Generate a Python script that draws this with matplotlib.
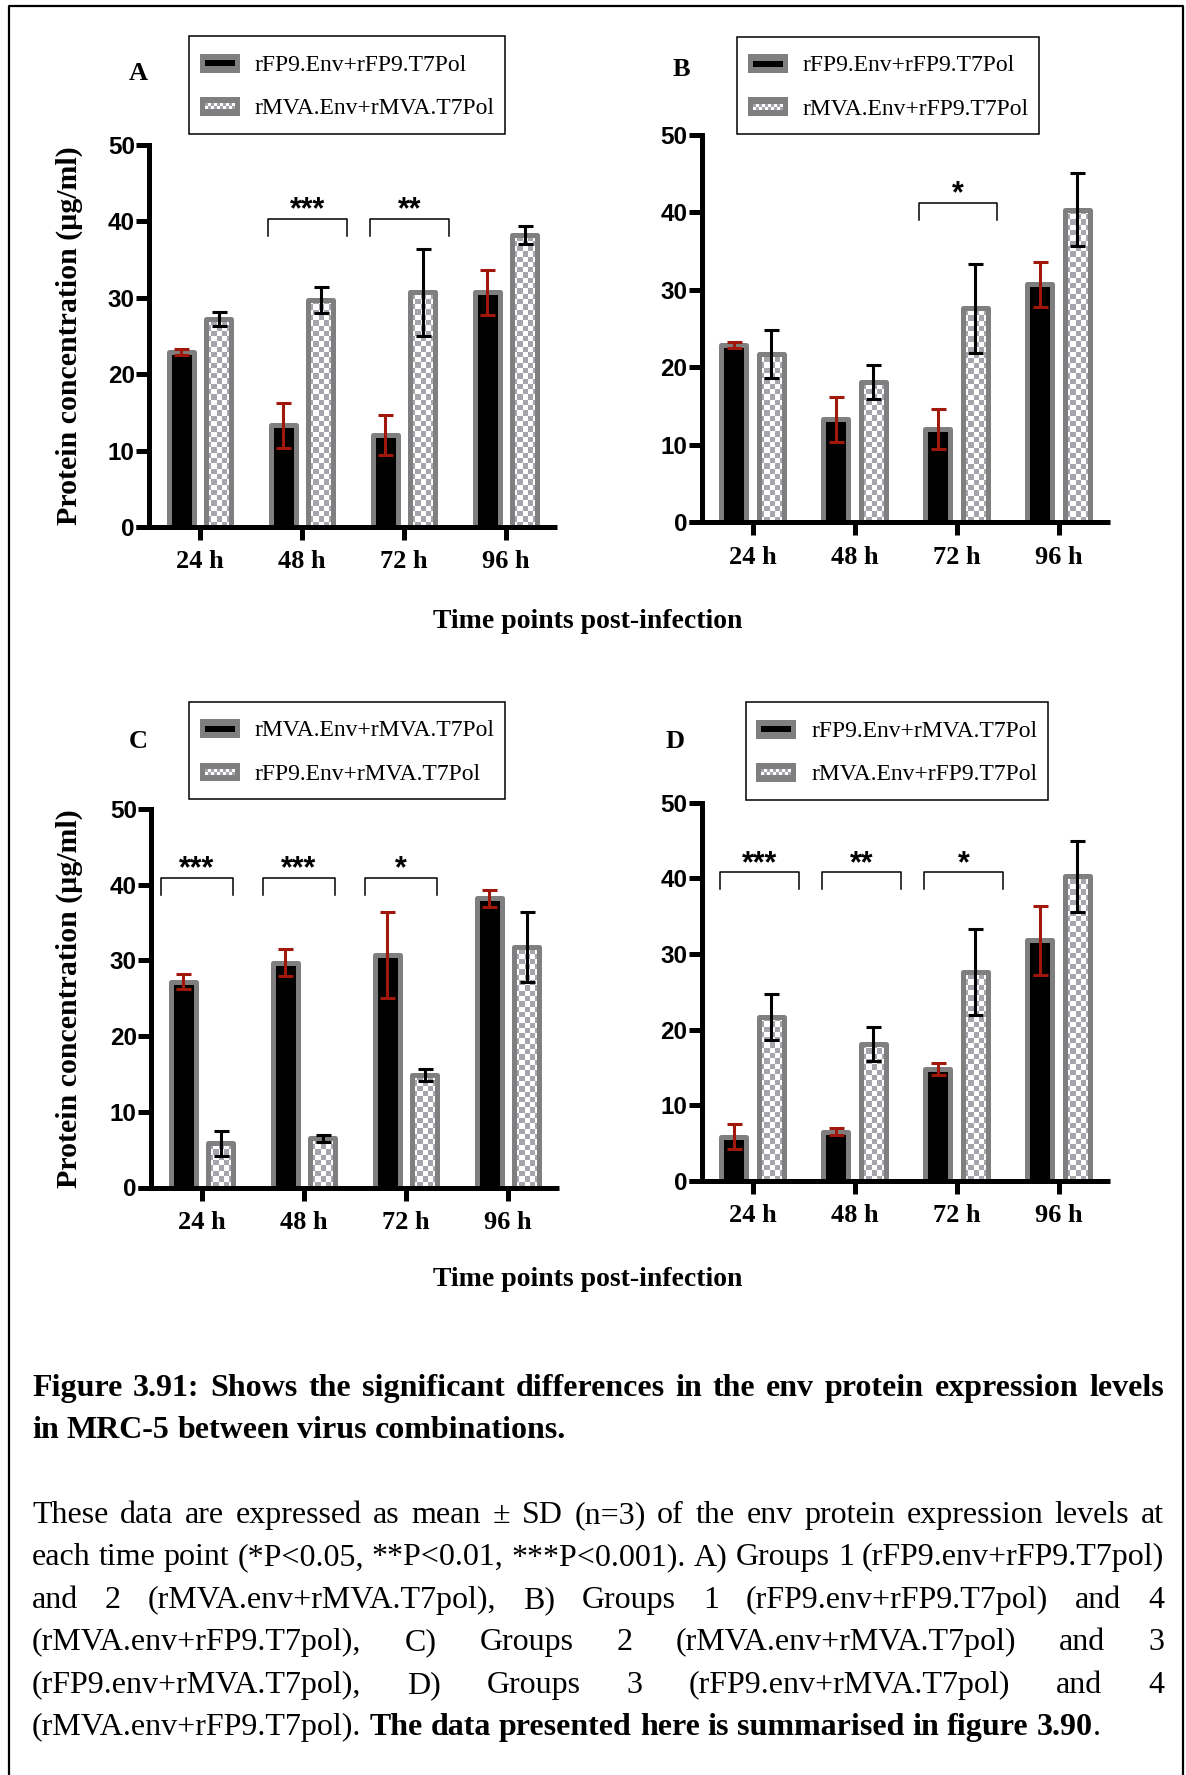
import numpy as np
import matplotlib
matplotlib.use("Agg")
import matplotlib.pyplot as plt
from matplotlib.patches import Rectangle, Patch
from matplotlib.lines import Line2D
from matplotlib.colors import ListedColormap
from matplotlib.legend_handler import HandlerBase

# ---------------- data: env protein (µg/ml), mean and SD (n=3) ----------------
time_points = ["24 h", "48 h", "72 h", "96 h"]

g1_name = "rFP9.Env+rFP9.T7Pol"
g1_mean = [22.9, 13.3, 12.0, 30.7]
g1_sd = [0.4, 2.9, 2.6, 2.9]

g2_name = "rMVA.Env+rMVA.T7Pol"
g2_mean = [27.2, 29.7, 30.7, 38.2]
g2_sd = [0.95, 1.75, 5.7, 1.15]

g3_name = "rFP9.Env+rMVA.T7Pol"
g3_mean = [5.85, 6.5, 14.85, 31.8]
g3_sd = [1.65, 0.45, 0.8, 4.6]

g4_name = "rMVA.Env+rFP9.T7Pol"
g4_mean = [21.7, 18.1, 27.6, 40.3]
g4_sd = [3.05, 2.25, 5.7, 4.7]

# significance per panel: (time point index, stars)
sig_A = [(1, "***"), (2, "**")]
sig_B = [(2, "*")]
sig_C = [(0, "***"), (1, "***"), (2, "*")]
sig_D = [(0, "***"), (1, "**"), (2, "*")]

y_ticks = [0, 10, 20, 30, 40, 50]
y_label = "Protein concentration (µg/ml)"
x_label = "Time points post-infection"

caption_title = [
    [("Figure 3.91: Shows the significant differences in the env protein expression levels", True)],
    [("in MRC-5 between virus combinations.", True)],
]
caption_body = [
    [("These data are expressed as mean ± SD (n=3) of the env protein expression levels at", False)],
    [("each time point (*P<0.05, **P<0.01, ***P<0.001). A) Groups 1 (rFP9.env+rFP9.T7pol)", False)],
    [("and 2 (rMVA.env+rMVA.T7pol), B) Groups 1 (rFP9.env+rFP9.T7pol) and 4", False)],
    [("(rMVA.env+rFP9.T7pol), C) Groups 2 (rMVA.env+rMVA.T7pol) and 3", False)],
    [("(rFP9.env+rMVA.T7pol), D) Groups 3 (rFP9.env+rMVA.T7pol) and 4", False)],
    [("(rMVA.env+rFP9.T7pol). ", False),
     ("The data presented here is summarised in figure 3.90", True),
     (".", False)],
]

# ---------------- styling ----------------
SERIF = "Liberation Serif"
SANS = "Liberation Sans"
EDGE = "#7f7f7f"
CHECK = "#a5a5ad"
RED = "#a0180c"
W, H = 1186, 1775
LW_AX = 3.6


def fx(px):
    return px / W


def fy(py):
    return 1 - py / H


class BarKey(HandlerBase):
    """Legend key: grey-framed bar, solid black or checkered."""

    def __init__(self, checkered):
        super().__init__()
        self.checkered = checkered

    def create_artists(self, legend, orig_handle, xdescent, ydescent,
                       width, height, fontsize, trans):
        x0 = -xdescent
        kh = fontsize * 0.8
        y0 = -ydescent + (height - kh) / 2
        arts = [Rectangle((x0, y0), width, kh, facecolor=EDGE,
                          edgecolor="none", transform=trans)]
        bx, by = width * 0.125, kh * 0.34
        ix, iy, iw, ih = x0 + bx, y0 + by, width - 2 * bx, kh - 2 * by
        if not self.checkered:
            arts.append(Rectangle((ix, iy), iw, ih, facecolor="black",
                                  edgecolor="none", transform=trans))
        else:
            arts.append(Rectangle((ix, iy), iw, ih, facecolor="white",
                                  edgecolor="none", transform=trans))
            cell = ih / 2.0
            ncol = int(round(iw / cell))
            cw = iw / ncol
            for r in range(2):
                for c in range(ncol):
                    if (r + c) % 2:
                        arts.append(Rectangle((ix + c * cw, iy + r * cell), cw, cell,
                                              facecolor=CHECK, edgecolor="none",
                                              transform=trans))
        return arts


fig = plt.figure(figsize=(W / 100, H / 100), dpi=100)

panels = [
    dict(letter="A", letter_xy=(138.5, 74), rect=(149, 145, 527),
         s1=(g1_name, g1_mean, g1_sd), s2=(g2_name, g2_mean, g2_sd),
         sig=sig_A, br=(-0.33, 0.445, 40.3), legend_xy=(189, 36), ylabel=True),
    dict(letter="B", letter_xy=(681.5, 69), rect=(701.5, 134.7, 522.3),
         s1=(g1_name, g1_mean, g1_sd), s2=(g4_name, g4_mean, g4_sd),
         sig=sig_B, br=(-0.37, 0.40, 41.2), legend_xy=(737, 36.5), ylabel=False),
    dict(letter="C", letter_xy=(138.5, 741.6), rect=(151, 809, 1187.5),
         s1=(g2_name, g2_mean, g2_sd), s2=(g3_name, g3_mean, g3_sd),
         sig=sig_C, br=(-0.40, 0.30, 40.9), legend_xy=(189, 701.6), ylabel=True),
    dict(letter="D", letter_xy=(674.7, 741.6), rect=(701.5, 802.8, 1181),
         s1=(g3_name, g3_mean, g3_sd), s2=(g4_name, g4_mean, g4_sd),
         sig=sig_D, br=(-0.32, 0.455, 40.8), legend_xy=(745.7, 702), ylabel=False),
]

AX_W = 408
BAR_W = 0.245
OFF = 0.185
CELL_PX = 5.3

for p in panels:
    left, top, bottom = p["rect"]
    ax = fig.add_axes([fx(left), fy(bottom), AX_W / W, (bottom - top) / H])
    ax.set_facecolor("none")
    x = np.arange(len(time_points))
    n1, m1, e1 = p["s1"]
    n2, m2, e2 = p["s2"]

    b1 = ax.bar(x - OFF, m1, BAR_W, facecolor="black", edgecolor=EDGE,
                linewidth=LW_AX, zorder=3)
    b2 = ax.bar(x + OFF, m2, BAR_W, facecolor="none", edgecolor=EDGE,
                linewidth=LW_AX, zorder=3)
    for bar in list(b1) + list(b2):
        bar.set_joinstyle("round")

    ax.set_xlim(-0.5, len(time_points) - 0.5)
    ax.set_ylim(0, 50)

    # checkered fill for the second series
    px_x = AX_W / len(time_points)
    px_y = (bottom - top) / 50.0
    cx, cy = CELL_PX / px_x, CELL_PX / px_y
    cmap = ListedColormap(["white", CHECK])
    for bar in b2:
        x0, w, h = bar.get_x(), bar.get_width(), bar.get_height()
        nx = int(np.ceil(w / cx)) + 1
        ny = int(np.ceil(h / cy)) + 1
        img = np.add.outer(np.arange(ny), np.arange(nx)) % 2
        im = ax.imshow(img, cmap=cmap, vmin=0, vmax=1, origin="lower",
                       extent=(x0, x0 + nx * cx, 0, ny * cy), aspect="auto",
                       interpolation="nearest", zorder=2.5)
        im.set_clip_path(bar)

    ax.errorbar(x - OFF, m1, yerr=e1, fmt="none", ecolor=RED, elinewidth=2.2,
                capsize=5.4, capthick=2.2, zorder=4)
    ax.errorbar(x + OFF, m2, yerr=e2, fmt="none", ecolor="black", elinewidth=2.2,
                capsize=5.4, capthick=2.2, zorder=4)

    ax.set_xlim(-0.5, len(time_points) - 0.5)
    ax.set_ylim(0, 50)

    # axes, ticks
    for s in ("top", "right", "bottom"):
        ax.spines[s].set_visible(False)
    ax.spines["left"].set_linewidth(LW_AX)
    ax.add_line(Line2D([-13 / AX_W, 1], [0, 0], transform=ax.transAxes,
                       color="black", lw=LW_AX, solid_capstyle="butt",
                       clip_on=False, zorder=5))
    ax.set_xticks(x)
    ax.set_xticklabels(time_points, fontfamily=SERIF, fontweight="bold", fontsize=19)
    ax.set_yticks(y_ticks)
    ax.set_yticklabels([str(v) for v in y_ticks], fontfamily=SANS,
                       fontweight="bold", fontsize=17.5)
    ax.tick_params(axis="x", length=9.4, width=LW_AX, pad=7.5)
    ax.tick_params(axis="y", length=9.4, width=LW_AX, pad=0.8)

    # significance brackets
    lo, hi, ytop = p["br"]
    for i, stars in p["sig"]:
        ax.plot([i + lo, i + lo, i + hi, i + hi], [ytop - 2.2, ytop, ytop, ytop - 2.2],
                color="black", lw=1.1, zorder=4, clip_on=False)
        ax.text(i + (lo + hi) / 2, ytop + 0.05, stars, ha="center", va="baseline",
                fontsize=22, fontfamily=SANS, fontweight="bold", zorder=4)

    # legend
    h1, h2 = Patch(), Patch()
    lx, ly = p["legend_xy"]
    leg = ax.legend([h1, h2], [n1, n2],
                    handler_map={h1: BarKey(False), h2: BarKey(True)},
                    loc="upper left", bbox_to_anchor=(fx(lx), fy(ly)),
                    bbox_transform=fig.transFigure, borderaxespad=0,
                    frameon=True, fancybox=False, framealpha=1, edgecolor="black",
                    prop=dict(family=SERIF, size=17), handlelength=1.7,
                    handleheight=1.79, handletextpad=0.62, labelspacing=0.42,
                    borderpad=0.45)
    leg.get_frame().set_linewidth(1.1)

    if p["ylabel"]:
        fig.text(fx(69), fy((top + bottom) / 2), y_label, rotation=90,
                 ha="center", va="center", fontfamily=SERIF, fontweight="bold",
                 fontsize=21.5)

    lxp, lyp = p["letter_xy"]
    fig.text(fx(lxp), fy(lyp), p["letter"], ha="center", va="center",
             fontfamily=SERIF, fontweight="bold", fontsize=19)

for yx in (622, 1279):
    fig.text(fx(588), fy(yx), x_label, ha="center", va="center",
             fontfamily=SERIF, fontweight="bold", fontsize=20)

# page border
fig.add_artist(Line2D([fx(9), fx(9), fx(1183), fx(1183)], [-0.01, fy(6), fy(6), -0.01],
                      transform=fig.transFigure, color="black", lw=1.6))


# ---------------- justified caption ----------------
def split_words(segments):
    words = []
    cont = False
    for txt, bold in segments:
        parts = txt.split(" ")
        for i, part in enumerate(parts):
            if not part:
                continue
            if i == 0 and cont and words:
                words[-1].append((part, bold))
            else:
                words.append([(part, bold)])
        cont = not txt.endswith(" ")
    return words


renderer = fig.canvas.get_renderer()
CAP_L, CAP_R = 32, 1164


def measure(words, size):
    widths = []
    for word in words:
        wsum = 0
        for txt, bold in word:
            t = fig.text(0, 0, txt, fontsize=size, fontfamily=SERIF,
                         fontweight="bold" if bold else "normal")
            wsum += t.get_window_extent(renderer).width
            t.remove()
        widths.append(wsum)
    return widths


caption = [(l, y, True) for l, y in zip(caption_title, (1396, 1438))]
caption[-1] = (caption[-1][0], 1438, False)
body_y = [1523, 1565, 1608, 1650, 1693, 1735]
caption += [(l, y, i < len(caption_body) - 1) for i, (l, y) in enumerate(zip(caption_body, body_y))]

trial = 23.0
longest = 0
for segs, _, just in caption:
    if just:
        ws = measure(split_words(segs), trial)
        natural = sum(ws) + 0.22 * trial * 100 / 72 * (len(ws) - 1)
        longest = max(longest, natural)
cap_size = min(trial, trial * (CAP_R - CAP_L) / longest * 0.998)
space_px = 0.25 * cap_size * 100 / 72

for segs, base, just in caption:
    words = split_words(segs)
    ws = measure(words, cap_size)
    gap = (CAP_R - CAP_L - sum(ws)) / (len(words) - 1) if just else space_px
    xpos = CAP_L
    for word, wsum in zip(words, ws):
        xx = xpos
        for txt, bold in word:
            t = fig.text(fx(xx), fy(base), txt, fontsize=cap_size, fontfamily=SERIF,
                         fontweight="bold" if bold else "normal", va="baseline", ha="left")
            xx += t.get_window_extent(renderer).width
        xpos += wsum + gap

fig.savefig("out.png", dpi=100, facecolor="white")
